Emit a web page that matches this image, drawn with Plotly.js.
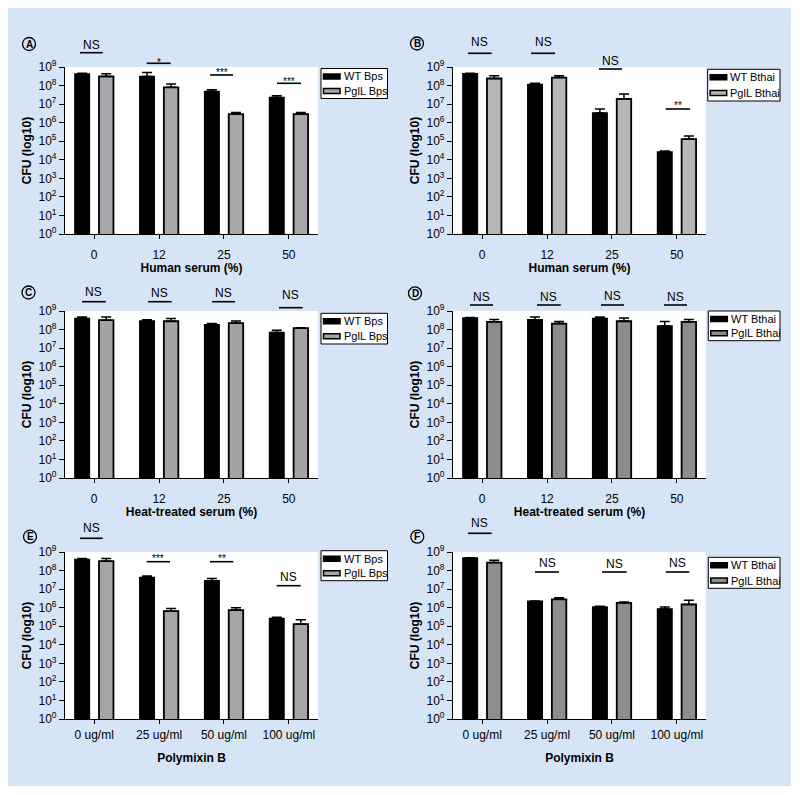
<!DOCTYPE html>
<html><head><meta charset="utf-8">
<script src="https://cdn.plot.ly/plotly-3.0.1.min.js"></script>
<style>html,body{margin:0;padding:0;background:#fff;}#chart{position:absolute;left:8px;top:8px;width:783px;height:778px;}</style>
</head><body><div id="chart"></div>
<script>
// ---------- data ----------
const serumCategories = ['0', '12', '25', '50'];
const polymixinCategories = ['0 ug/ml', '25 ug/ml', '50 ug/ml', '100 ug/ml'];
const yTickVals = [1, 10, 100, 1e3, 1e4, 1e5, 1e6, 1e7, 1e8, 1e9];
const yTickText = ['10<sup>0</sup>', '10<sup>1</sup>', '10<sup>2</sup>', '10<sup>3</sup>', '10<sup>4</sup>',
                   '10<sup>5</sup>', '10<sup>6</sup>', '10<sup>7</sup>', '10<sup>8</sup>', '10<sup>9</sup>'];
const namesBps = ['WT Bps', 'PglL Bps'];
const namesBthai = ['WT Bthai', 'PglL Bthai'];

// A: Bps, human serum
const wtBpsHuman = [4.2e8, 3.1e8, 4.8e7, 2.3e7];
const wtBpsHumanErr = [0.4e8, 2.0e8, 1.1e7, 0.5e7];
const pglBpsHuman = [3.1e8, 8.0e7, 2.9e6, 2.9e6];
const pglBpsHumanErr = [1.2e8, 4.0e7, 0.6e6, 0.6e6];
const sigA = ['NS', '*', '***', '***'];

// B: Bthai, human serum
const wtBthaiHuman = [4.3e8, 1.15e8, 3.3e6, 2.6e4];
const wtBthaiHumanErr = [0.3e8, 0.2e8, 2.1e6, 0.4e4];
const pglBthaiHuman = [2.4e8, 2.7e8, 1.9e7, 1.3e5];
const pglBthaiHumanErr = [1.0e8, 0.7e8, 1.6e7, 0.6e5];
const sigB = ['NS', 'NS', 'NS', '**'];

// C: Bps, heat-treated serum
const wtBpsHeat = [3.9e8, 2.9e8, 1.8e8, 6.9e7];
const wtBpsHeatErr = [0.9e8, 0.5e8, 0.3e8, 2.3e7];
const pglBpsHeat = [3.2e8, 2.8e8, 2.2e8, 1.2e8];
const pglBpsHeatErr = [1.6e8, 1.1e8, 0.7e8, 0.05e8];
const sigC = ['NS', 'NS', 'NS', 'NS'];

// D: Bthai, heat-treated serum
const wtBthaiHeat = [4.2e8, 3.4e8, 3.9e8, 1.55e8];
const wtBthaiHeatErr = [0.3e8, 1.3e8, 0.9e8, 1.15e8];
const pglBthaiHeat = [2.6e8, 2.1e8, 2.8e8, 2.6e8];
const pglBthaiHeatErr = [0.9e8, 0.6e8, 1.4e8, 0.9e8];
const sigD = ['NS', 'NS', 'NS', 'NS'];

// E: Bps, polymixin B
const wtBpsPoly = [3.9e8, 4.2e7, 2.8e7, 2.6e5];
const wtBpsPolyErr = [0.5e8, 0.9e7, 0.9e7, 0.4e5];
const pglBpsPoly = [3.2e8, 6.5e5, 7.4e5, 1.3e5];
const pglBpsPolyErr = [1.2e8, 2.6e5, 2.6e5, 0.9e5];
const sigE = ['NS', '***', '**', 'NS'];

// F: Bthai, polymixin B
const wtBthaiPoly = [4.8e8, 2.2e6, 1.1e6, 8.4e5];
const wtBthaiPolyErr = [0.1e8, 0.1e6, 0.1e6, 2.6e5];
const pglBthaiPoly = [2.7e8, 2.8e6, 1.8e6, 1.5e6];
const pglBthaiPolyErr = [0.9e8, 0.6e6, 0.2e6, 1.0e6];
const sigF = ['NS', 'NS', 'NS', 'NS'];

// ---------- layout geometry (page pixels) ----------
const OX = 8, OY = 8, W = 783, H = 778;
const X = px => (px - OX) / W;
const Y = py => 1 - (py - OY) / H;
const FONT = 'Arial, "Liberation Sans", Helvetica, sans-serif';

const panels = [
  {letter: 'A', letterPos: [29, 44], box: [65, 318, 67, 234], cats: serumCategories, xtitle: 'Human serum (%)',
   wt: wtBpsHuman, wtErr: wtBpsHumanErr, pg: pglBpsHuman, pgErr: pglBpsHumanErr, pgColor: '#a7a7ab', names: namesBps,
   legend: [321, 387.5, 68.5, 98.5], sig: sigA,
   sigPos: [[80, 102.7, 52.7, 45], [146.7, 170.7, 63.3, 60], [210, 233, 75, 69.3], [277, 301, 83.3, 79]], xstand: 3, tls: 5},
  {letter: 'B', letterPos: [417, 43.5], box: [453, 706, 67, 234], cats: serumCategories, xtitle: 'Human serum (%)',
   wt: wtBthaiHuman, wtErr: wtBthaiHumanErr, pg: pglBthaiHuman, pgErr: pglBthaiHumanErr, pgColor: '#b6b6b6', names: namesBthai,
   legend: [707.7, 780, 69.3, 101], sig: sigB,
   sigPos: [[468, 491.7, 53.3, 41.7], [531, 555, 53.3, 41.7], [599, 622, 69, 60.7], [665.7, 690, 109, 102.7]], xstand: 3, tls: 5},
  {letter: 'C', letterPos: [28.5, 292.5], box: [65, 318, 311, 478], cats: serumCategories, xtitle: 'Heat-treated serum (%)',
   wt: wtBpsHeat, wtErr: wtBpsHeatErr, pg: pglBpsHeat, pgErr: pglBpsHeatErr, pgColor: '#a3a3a6', names: namesBps,
   legend: [321, 387.5, 313.3, 344], sig: sigC,
   sigPos: [[82, 105.7, 301.7, 291.7], [148, 171.7, 301.7, 292.7], [212, 235, 301.7, 292.7], [279, 302.7, 307.7, 295]], xstand: 3, tls: 5},
  {letter: 'D', letterPos: [415, 293.3], box: [453, 706, 311, 478], cats: serumCategories, xtitle: 'Heat-treated serum (%)',
   wt: wtBthaiHeat, wtErr: wtBthaiHeatErr, pg: pglBthaiHeat, pgErr: pglBthaiHeatErr, pgColor: '#8c8c8c', names: namesBthai,
   legend: [708.3, 780, 311, 340.7], sig: sigD,
   sigPos: [[470, 493, 305, 297.3], [537, 560.7, 305, 297.3], [601, 624, 305, 296], [664, 687, 305, 297.3]], xstand: 3, tls: 5},
  {letter: 'E', letterPos: [30, 536.7], box: [65, 318, 552, 719], cats: polymixinCategories, xtitle: 'Polymixin B',
   wt: wtBpsPoly, wtErr: wtBpsPolyErr, pg: pglBpsPoly, pgErr: pglBpsPolyErr, pgColor: '#a5a5a8', names: namesBps,
   legend: [321, 387.5, 550.7, 580.7], sig: sigE,
   sigPos: [[80, 102.7, 538.3, 528.3], [146.7, 170, 561.7, 555], [210, 233.3, 561.7, 555], [276.7, 300.7, 585.7, 576.7]], xstand: 13, tls: 0},
  {letter: 'F', letterPos: [417.3, 536.7], box: [453, 706, 552, 719], cats: polymixinCategories, xtitle: 'Polymixin B',
   wt: wtBthaiPoly, wtErr: wtBthaiPolyErr, pg: pglBthaiPoly, pgErr: pglBthaiPolyErr, pgColor: '#8e8e8e', names: namesBthai,
   legend: [708.3, 780, 557.3, 588.3], sig: sigF,
   sigPos: [[468, 491.7, 533.3, 522.7], [535, 559, 572, 563.3], [602, 626.7, 572, 564.3], [665.7, 689.3, 572, 562.7]], xstand: 13, tls: 0}
];

const data = [];
const layout = {
  width: W, height: H, margin: {l: 0, r: 0, t: 0, b: 0, pad: 0},
  paper_bgcolor: '#d5e5f5', plot_bgcolor: '#ffffff',
  font: {family: FONT, color: '#000', size: 11},
  showlegend: false, barmode: 'overlay',
  shapes: [], annotations: []
};

const BAR_W = 0.223;
panels.forEach((p, i) => {
  const s = i === 0 ? '' : String(i + 1);
  const xa = 'x' + s, ya = 'y' + s;
  const zeros = p.wtErr.map(() => 0);
  data.push({
    type: 'bar', name: p.names[0], x: p.cats, y: p.wt, xaxis: xa, yaxis: ya,
    width: BAR_W, offset: -0.297,
    marker: {color: '#000000', line: {color: '#000000', width: 1.5}},
    error_y: {type: 'data', symmetric: false, array: p.wtErr, arrayminus: zeros, color: '#000', thickness: 1.5, width: 5},
    hoverinfo: 'x+y+name'
  });
  data.push({
    type: 'bar', name: p.names[1], x: p.cats, y: p.pg, xaxis: xa, yaxis: ya,
    width: BAR_W, offset: 0.074,
    marker: {color: p.pgColor, line: {color: '#000000', width: 1.8}},
    error_y: {type: 'data', symmetric: false, array: p.pgErr, arrayminus: zeros, color: '#000', thickness: 1.5, width: 5},
    hoverinfo: 'x+y+name'
  });
  const [l, r, t, b] = p.box;
  layout['xaxis' + s] = {
    domain: [X(l), X(r)], anchor: ya, type: 'category', range: [-0.45, 3.45],
    showline: true, linecolor: '#000', linewidth: 1.2, mirror: false,
    ticks: 'outside', ticklen: 4, tickwidth: 1.2, tickcolor: '#000', ticklabelstandoff: p.tls,
    tickfont: {size: 12, family: FONT}, showgrid: false, zeroline: false, automargin: false,
    title: {text: '<b>' + p.xtitle + '</b>', font: {size: 12, family: FONT}, standoff: p.xstand}
  };
  layout['yaxis' + s] = {
    domain: [Y(b), Y(t)], anchor: xa, type: 'log', range: [0, 9],
    tickvals: yTickVals, ticktext: yTickText,
    showline: true, linecolor: '#000', linewidth: 1.2,
    ticks: 'outside', ticklen: 5, tickwidth: 1.2, tickcolor: '#000',
    tickfont: {size: 12, family: FONT}, showgrid: false, zeroline: false, automargin: false,
    title: {text: '<b>CFU (log10)</b>', font: {size: 12, family: FONT}, standoff: 4}
  };

  // panel letter
  const [lx, ly] = p.letterPos;
  layout.shapes.push({type: 'circle', xref: 'paper', yref: 'paper',
    x0: X(lx - 6.5), x1: X(lx + 6.5), y0: Y(ly + 6.5), y1: Y(ly - 6.5),
    line: {color: '#000', width: 1.3}, fillcolor: 'rgba(0,0,0,0)'});
  layout.annotations.push({xref: 'paper', yref: 'paper', x: X(lx), y: Y(ly), text: '<b>' + p.letter + '</b>',
    showarrow: false, xanchor: 'center', yanchor: 'middle', font: {size: 10, family: FONT}});

  // significance markers
  p.sig.forEach((txt, k) => {
    const [x0, x1, lineY, textY] = p.sigPos[k];
    layout.shapes.push({type: 'line', xref: 'paper', yref: 'paper', x0: X(x0), x1: X(x1), y0: Y(lineY), y1: Y(lineY),
      line: {color: '#000', width: 1.6}});
    const isStar = txt.indexOf('*') === 0;
    layout.annotations.push({xref: 'paper', yref: 'paper', x: X((x0 + x1) / 2), y: Y(isStar ? textY + 3 : textY),
      text: txt, showarrow: false, xanchor: 'center', yanchor: 'middle',
      font: {size: isStar ? 10 : 12, family: FONT}});
  });

  // legend (drawn)
  const [gx0, gx1, gy0, gy1] = p.legend;
  layout.shapes.push({type: 'rect', xref: 'paper', yref: 'paper', x0: X(gx0), x1: X(gx1), y0: Y(gy1), y1: Y(gy0),
    line: {color: '#000', width: 1}, fillcolor: '#ffffff'});
  const rowsY = [gy0 + 8, gy0 + (gy1 - gy0) * 0.75];
  const fills = ['#000000', p.pgColor];
  rowsY.forEach((ry, k) => {
    layout.shapes.push({type: 'rect', xref: 'paper', yref: 'paper', x0: X(gx0 + 2.5), x1: X(gx0 + 19), y0: Y(ry + 2.5), y1: Y(ry - 2.5),
      line: {color: '#000', width: 1.5}, fillcolor: fills[k]});
    layout.annotations.push({xref: 'paper', yref: 'paper', x: X(gx0 + 20.5), y: Y(ry), text: p.names[k],
      showarrow: false, xanchor: 'left', yanchor: 'middle', font: {size: 11, family: FONT}});
  });
});

Plotly.newPlot('chart', data, layout, {displayModeBar: false, staticPlot: false});
</script></body></html>
